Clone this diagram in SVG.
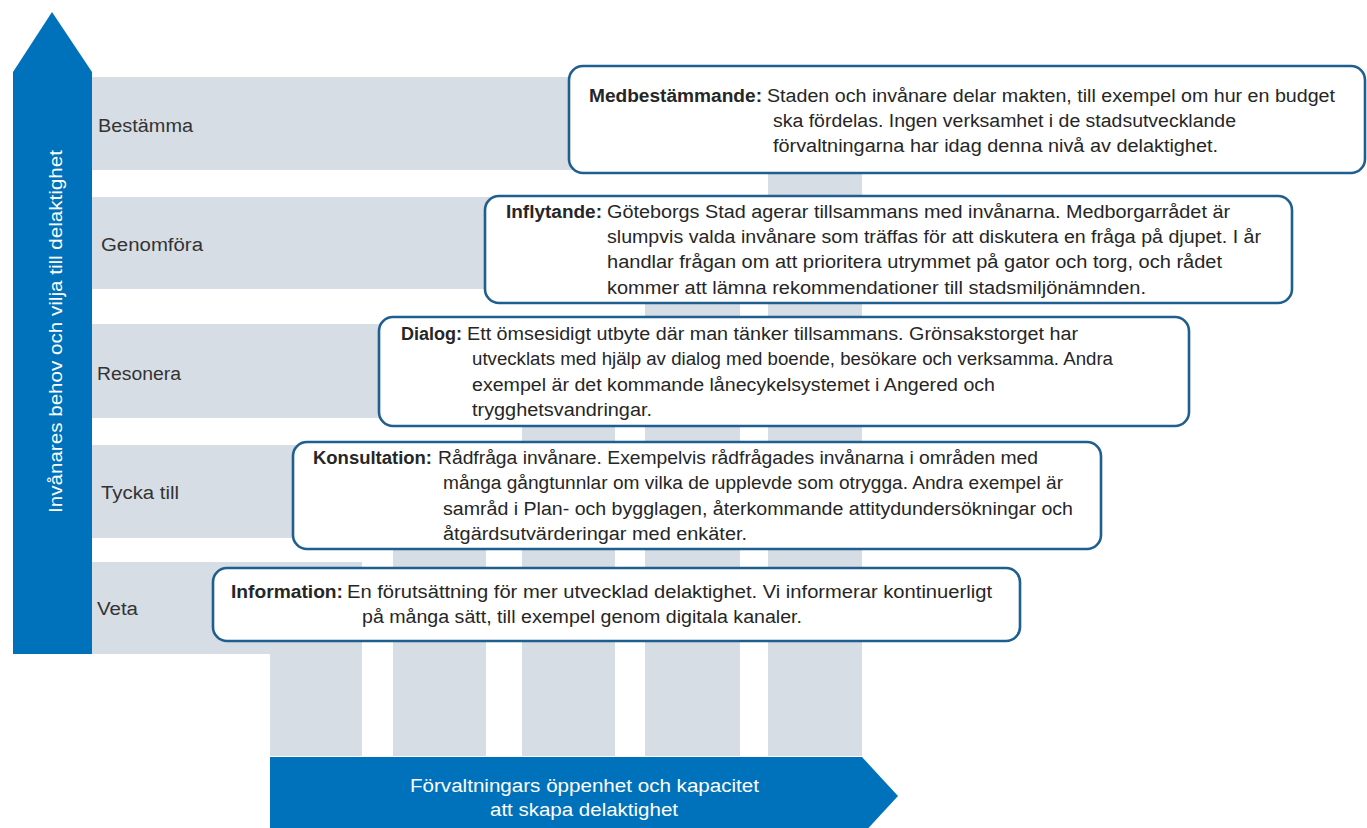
<svg xmlns="http://www.w3.org/2000/svg" width="1367" height="828" viewBox="0 0 1367 828">
<style>
  text { font-family: "Liberation Sans", Arial, sans-serif; font-size: 18px; fill: #262626; }
  .lbl { fill: #333333; }
  .b { font-weight: bold; }
  .wt { fill: #ffffff; }
  .band { fill: #d6dde4; }
  .box { fill: #ffffff; stroke: #1f5f8f; stroke-width: 2.6; }
  .ax { fill: #0072bb; }
</style>
<rect x="0" y="0" width="1367" height="828" fill="#ffffff"/>

<g id="levels">
  <path class="band" d="M92,77 H862 V756 H768 V170 H92 Z"/>
  <path class="band" d="M92,197 H740 V756 H645 V289 H92 Z"/>
  <path class="band" d="M92,324 H615 V756 H522 V418 H92 Z"/>
  <path class="band" d="M92,445 H486 V756 H393 V538 H92 Z"/>
  <path class="band" d="M92,562 H362 V756 H270 V654 H92 Z"/>
  <text class="lbl" x="98" y="132" textLength="95" lengthAdjust="spacingAndGlyphs">Bestämma</text>
  <text class="lbl" x="101" y="251" textLength="102" lengthAdjust="spacingAndGlyphs">Genomföra</text>
  <text class="lbl" x="97" y="380" textLength="84" lengthAdjust="spacingAndGlyphs">Resonera</text>
  <text class="lbl" x="101" y="499" textLength="78" lengthAdjust="spacingAndGlyphs">Tycka till</text>
  <text class="lbl" x="97" y="615" textLength="41" lengthAdjust="spacingAndGlyphs">Veta</text>
</g>

<g id="axes">
  <g id="axis-invanare">
    <path class="ax" d="M13,72 L52,12 L92,72 V654 H13 Z"/>
    <text class="wt" transform="translate(62,331.5) rotate(-90)" x="-181.5" y="0" textLength="363" lengthAdjust="spacingAndGlyphs">Invånares behov och vilja till delaktighet</text>
  </g>
  <g id="axis-forvaltning">
    <path class="ax" d="M270,757 H862 L898,796 L862,835 H270 Z"/>
    <text class="wt" x="410" y="792" textLength="349" lengthAdjust="spacingAndGlyphs">Förvaltningars öppenhet och kapacitet</text>
    <text class="wt" x="490" y="816" textLength="188" lengthAdjust="spacingAndGlyphs">att skapa delaktighet</text>
  </g>
</g>

<g id="box-medbestammande">
  <rect class="box" x="569" y="66" width="796" height="107" rx="14"/>
  <text class="b" x="589" y="102" textLength="173" lengthAdjust="spacingAndGlyphs">Medbestämmande:</text>
  <text x="767" y="102" textLength="568" lengthAdjust="spacingAndGlyphs">Staden och invånare delar makten, till exempel om hur en budget</text>
  <text x="773" y="127" textLength="463" lengthAdjust="spacingAndGlyphs">ska fördelas. Ingen verksamhet i de stadsutvecklande</text>
  <text x="773" y="152" textLength="445" lengthAdjust="spacingAndGlyphs">förvaltningarna har idag denna nivå av delaktighet.</text>
</g>

<g id="box-inflytande">
  <rect class="box" x="485" y="196" width="807" height="107" rx="14"/>
  <text class="b" x="506" y="218" textLength="96" lengthAdjust="spacingAndGlyphs">Inflytande:</text>
  <text x="607" y="218" textLength="623" lengthAdjust="spacingAndGlyphs">Göteborgs Stad agerar tillsammans med invånarna. Medborgarrådet är</text>
  <text x="607" y="243" textLength="654" lengthAdjust="spacingAndGlyphs">slumpvis valda invånare som träffas för att diskutera en fråga på djupet. I år</text>
  <text x="607" y="268" textLength="615" lengthAdjust="spacingAndGlyphs">handlar frågan om att prioritera utrymmet på gator och torg, och rådet</text>
  <text x="607" y="294" textLength="539" lengthAdjust="spacingAndGlyphs">kommer att lämna rekommendationer till stadsmiljönämnden.</text>
</g>

<g id="box-dialog">
  <rect class="box" x="379" y="317" width="810" height="109" rx="14"/>
  <text class="b" x="401" y="340" textLength="61" lengthAdjust="spacingAndGlyphs">Dialog:</text>
  <text x="467" y="340" textLength="611" lengthAdjust="spacingAndGlyphs">Ett ömsesidigt utbyte där man tänker tillsammans. Grönsakstorget har</text>
  <text x="472" y="365" textLength="641" lengthAdjust="spacingAndGlyphs">utvecklats med hjälp av dialog med boende, besökare och verksamma. Andra</text>
  <text x="472" y="391" textLength="523" lengthAdjust="spacingAndGlyphs">exempel är det kommande lånecykelsystemet i Angered och</text>
  <text x="472" y="416" textLength="180" lengthAdjust="spacingAndGlyphs">trygghetsvandringar.</text>
</g>

<g id="box-konsultation">
  <rect class="box" x="293" y="442" width="808" height="107" rx="14"/>
  <text class="b" x="313" y="464" textLength="119" lengthAdjust="spacingAndGlyphs">Konsultation:</text>
  <text x="438" y="464" textLength="600" lengthAdjust="spacingAndGlyphs">Rådfråga invånare. Exempelvis rådfrågades invånarna i områden med</text>
  <text x="443" y="489" textLength="620" lengthAdjust="spacingAndGlyphs">många gångtunnlar om vilka de upplevde som otrygga. Andra exempel är</text>
  <text x="443" y="515" textLength="630" lengthAdjust="spacingAndGlyphs">samråd i Plan- och bygglagen, återkommande attitydundersökningar och</text>
  <text x="443" y="540" textLength="304" lengthAdjust="spacingAndGlyphs">åtgärdsutvärderingar med enkäter.</text>
</g>

<g id="box-information">
  <rect class="box" x="213" y="568" width="807" height="73" rx="14"/>
  <text class="b" x="231" y="598" textLength="112" lengthAdjust="spacingAndGlyphs">Information:</text>
  <text x="347" y="598" textLength="645" lengthAdjust="spacingAndGlyphs">En förutsättning för mer utvecklad delaktighet. Vi informerar kontinuerligt</text>
  <text x="362" y="623" textLength="440" lengthAdjust="spacingAndGlyphs">på många sätt, till exempel genom digitala kanaler.</text>
</g>
</svg>
